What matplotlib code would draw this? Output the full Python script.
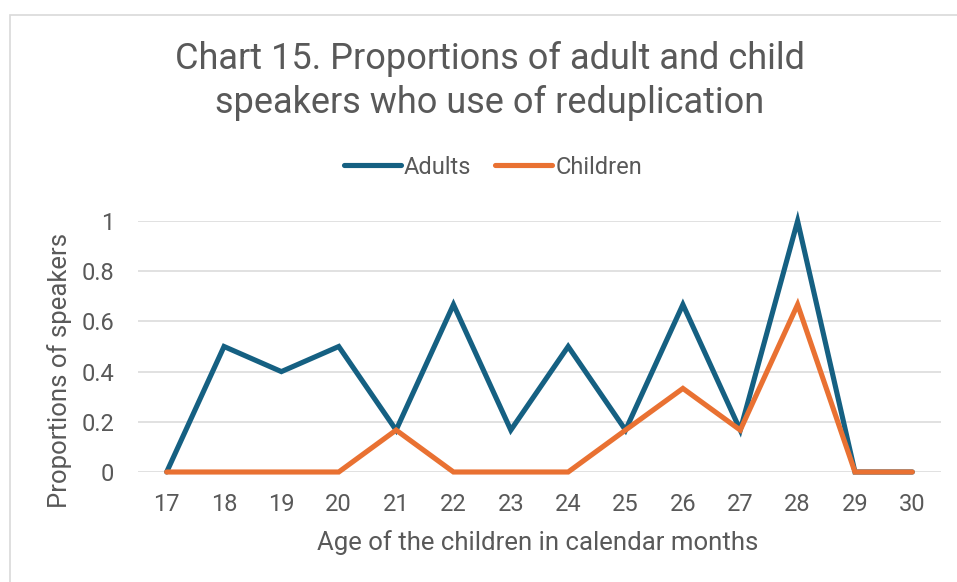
import matplotlib
matplotlib.use('Agg')
import matplotlib.pyplot as plt
from matplotlib.patches import Rectangle

# Chart data
ages = [17, 18, 19, 20, 21, 22, 23, 24, 25, 26, 27, 28, 29, 30]
adults = [0, 0.5, 0.4, 0.5, 0.167, 0.667, 0.167, 0.5, 0.167, 0.667, 0.167, 1.0, 0, 0]
children = [0, 0, 0, 0, 0.167, 0, 0, 0, 0.167, 0.333, 0.167, 0.667, 0, 0]
y_ticks = [0, 0.2, 0.4, 0.6, 0.8, 1]
y_tick_labels = ['0', '0.2', '0.4', '0.6', '0.8', '1']

plt.rcParams['font.family'] = ['Roboto', 'DejaVu Sans']
text_col = '#595959'

fig = plt.figure(figsize=(9.57, 5.82), dpi=100)
W, H = 957, 582

# light chart border (runs off right/bottom edge like the screenshot)
fig.patches.append(Rectangle((10 / W, -0.01), 1.0, 1 - 15 / H + 0.01,
                             transform=fig.transFigure, fill=False,
                             edgecolor='#D9D9D9', linewidth=1.2))

ax = fig.add_axes([138 / W, 1 - 472 / H, (941 - 138) / W, (472 - 221) / H])
pos = list(range(len(ages)))
ax.plot(pos, adults, color='#156082', linewidth=3.7, solid_joinstyle='miter',
        solid_capstyle='round', clip_on=False, label='Adults', zorder=3)
ax.plot(pos, children, color='#E97132', linewidth=3.7, solid_joinstyle='miter',
        solid_capstyle='round', clip_on=False, label='Children', zorder=3)

ax.set_xlim(-0.5, len(ages) - 0.5)
ax.set_ylim(0, 1)
ax.set_xticks(pos)
ax.set_xticklabels([str(a) for a in ages])
ax.set_yticks(y_ticks)
ax.set_yticklabels(y_tick_labels)
ax.tick_params(axis='both', length=0, labelsize=17, colors=text_col)
ax.tick_params(axis='x', pad=15)
ax.tick_params(axis='y', pad=17)
ax.grid(axis='y', color='#D9D9D9', linewidth=1.1)
ax.set_axisbelow(True)
for s in ax.spines.values():
    s.set_visible(False)

# axis titles placed like the Excel chart
fig.text(538 / W, 1 - 543 / H, 'Age of the children in calendar months',
         ha='center', va='center', fontsize=18.5, color=text_col)
fig.text(60 / W, 1 - 370 / H, 'Proportions of speakers', rotation=90,
         ha='center', va='center', fontsize=18.5, color=text_col)

fig.text(490 / W, 1 - 81 / H,
         'Chart 15. Proportions of adult and child\nspeakers who use of reduplication',
         ha='center', va='center', fontsize=26, color=text_col, linespacing=1.32)

fig.legend(loc='center', bbox_to_anchor=(493 / W, 1 - 167 / H), ncol=2, frameon=False,
           fontsize=17, labelcolor=text_col, handlelength=2.4, columnspacing=1.0,
           handletextpad=0.15)

fig.savefig('out.png', dpi=100)
plt.close(fig)
